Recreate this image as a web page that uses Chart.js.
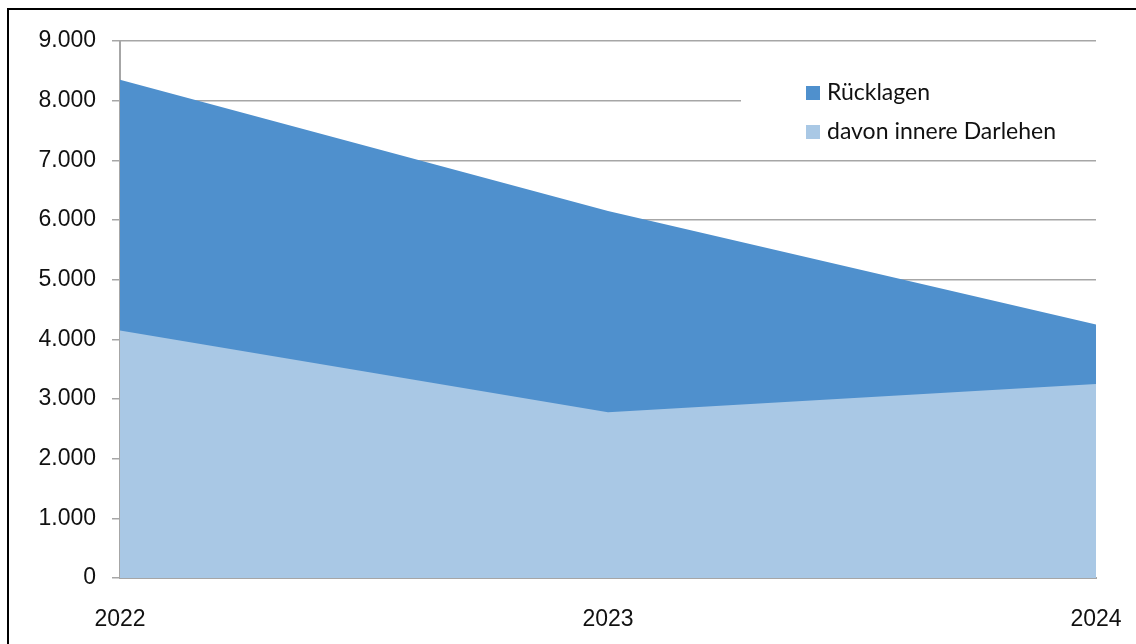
<!DOCTYPE html>
<html>
<head>
<meta charset="utf-8">
<script src="https://cdn.jsdelivr.net/npm/chart.js@4/dist/chart.umd.min.js"></script>
<style>
    body { margin: 0; background: #fff; }
    #wrap { position: relative; width: 1136px; height: 644px; overflow: hidden; }
    #frame { position: absolute; left: 7px; top: 8px; width: 1200px; height: 700px;
        border-left: 2px solid #000; border-top: 2px solid #000; pointer-events: none; }
</style>
</head>
<body>
<div id="wrap">
    <canvas id="myChart" width="1136" height="644"></canvas>
    <div id="frame"></div>
</div>
<script>
// data
var years = ["2022", "2023", "2024"];
var ruecklagen = [8350, 6150, 4250];
var darlehen = [4150, 2780, 3250];
var seriesNames = ["Rücklagen", "davon innere Darlehen"];
var yTicks = [0, 1000, 2000, 3000, 4000, 5000, 6000, 7000, 8000, 9000];

var darkBlue = 'rgb(79, 144, 205)';
var lightBlue = 'rgb(169, 200, 229)';
var gridGrey = '#a6a6a6';

function fmt(v) {
    return String(v).replace(/\B(?=(\d{3})+(?!\d))/g, '.');
}

// legend box drawn on top, like the original
var boxLegend = {
    id: 'boxLegend',
    afterDraw: function (chart) {
        var ctx = chart.ctx;
        var ds = chart.data.datasets;
        ctx.save();
        ctx.fillStyle = '#fff';
        ctx.fillRect(741, 58, 356, 92);
        ctx.font = '23px Lato';
        ctx.textBaseline = 'middle';
        ctx.textAlign = 'left';
        var rows = [{ i: 1, y: 93 }, { i: 0, y: 132 }];
        rows.forEach(function (r) {
            ctx.fillStyle = ds[r.i].backgroundColor;
            ctx.fillRect(806, r.y - 7, 14, 14);
            ctx.fillStyle = '#111';
            ctx.fillText(ds[r.i].label, 827, r.y);
        });
        ctx.restore();
    }
};

var ctx = document.getElementById('myChart').getContext('2d');
var chart = new Chart(ctx, {
    type: 'line',
    data: {
        labels: years,
        datasets: [{
            label: seriesNames[1],
            data: darlehen,
            backgroundColor: lightBlue,
            borderWidth: 0,
            pointRadius: 0,
            fill: 'origin',
            order: 1
        }, {
            label: seriesNames[0],
            data: ruecklagen,
            backgroundColor: darkBlue,
            borderWidth: 0,
            pointRadius: 0,
            fill: 'origin',
            order: 2
        }]
    },
    options: {
        responsive: false,
        animation: false,
        devicePixelRatio: 1,
        layout: { padding: { top: 41, right: 40, left: 0, bottom: 0 } },
        plugins: {
            legend: { display: false },
            tooltip: { enabled: false }
        },
        scales: {
            x: {
                offset: false,
                grid: { display: false },
                border: { display: true, color: gridGrey, width: 2 },
                ticks: {
                    color: '#111',
                    font: { family: 'Liberation Sans', size: 23 },
                    padding: 20,
                    maxRotation: 0,
                    autoSkip: false
                },
                afterFit: function (s) {
                    s.height = 66;
                    s.paddingLeft = 0;
                    s.paddingRight = 0;
                }
            },
            y: {
                min: 0,
                max: 9000,
                afterBuildTicks: function (s) {
                    s.ticks = yTicks.map(function (v) { return { value: v }; });
                },
                grid: { color: gridGrey, lineWidth: 1.5, tickLength: 8 },
                border: { display: true, color: gridGrey, width: 2 },
                ticks: {
                    color: '#111',
                    font: { family: 'Liberation Sans', size: 23 },
                    padding: 16,
                    callback: function (v) { return fmt(v); }
                },
                afterFit: function (s) {
                    s.width = 120;
                    s.paddingTop = 0;
                    s.paddingBottom = 0;
                }
            }
        }
    },
    plugins: [boxLegend]
});
</script>
</body>
</html>
